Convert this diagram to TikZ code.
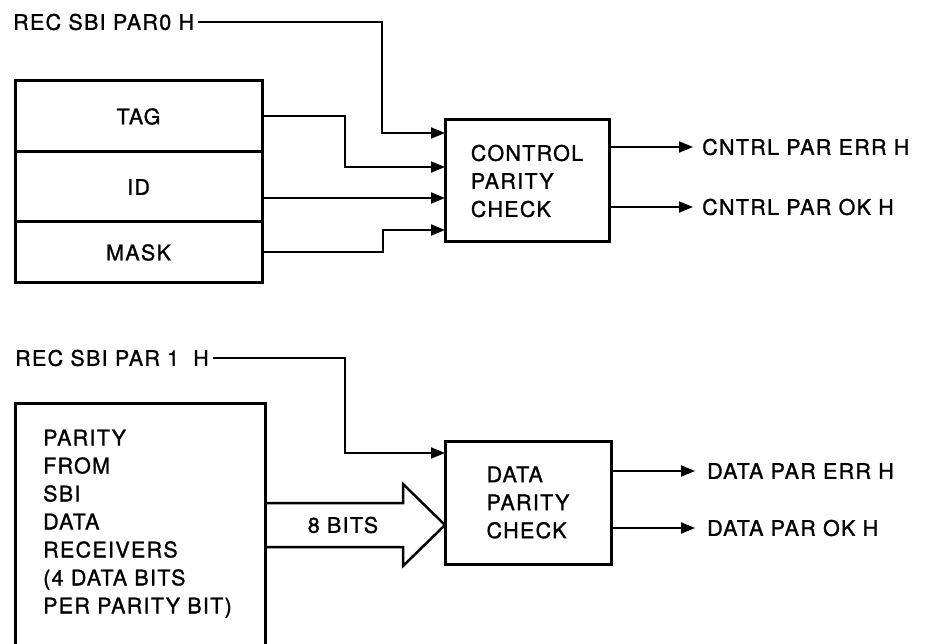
\documentclass[tikz,border=0pt]{standalone}
\usepackage{fontspec}
\setmainfont{TeX Gyre Heros}[LetterSpace=6,FakeBold=1.2]
\usetikzlibrary{arrows.meta,calc}
\begin{document}
\begin{tikzpicture}[x=1pt,y=-1pt,
  every node/.style={font=\fontsize{21.5}{28}\selectfont},
  blk/.style={draw,line width=3pt,rectangle,inner sep=0pt,outer sep=0pt},
  lbl/.style={inner sep=0pt},
  conn/.style={line width=2pt},
  arr/.style={line width=2pt,-{Triangle[length=14pt,width=11pt]}},
  fat/.style={line width=2.5pt,line join=miter}]
\useasboundingbox (0,0) rectangle (929,644);
% top part
\node[lbl,anchor=west] (rec0) at (13,22) {REC SBI PAR0 H};
\node[blk,minimum width=247pt,minimum height=71pt] (tag) at (138.5,116.5) {TAG};
\node[blk,minimum width=247pt,minimum height=70pt,anchor=north] (id) at (tag.south) {ID};
\node[blk,minimum width=247pt,minimum height=61pt,anchor=north] (mask) at (id.south) {MASK};
\node[blk,minimum width=164pt,minimum height=122pt,align=left] (ctrl) at (527,181) {CONTROL\\PARITY\\CHECK};
\coordinate (in1) at ($(ctrl.north west)+(0,13)$);
\coordinate (in2) at ($(ctrl.north west)+(0,47)$);
\coordinate (in3) at ($(ctrl.north west)+(0,78)$);
\coordinate (in4) at ($(ctrl.north west)+(0,110)$);
\draw[arr] ([xshift=4pt]rec0.east) -| ([xshift=-63pt]in1) -- (in1);
\draw[arr] (tag.east) -| ([xshift=-100pt]in2) -- (in2);
\draw[arr] (in3 -| id.east) -- (in3);
\draw[arr] (mask.east) -| ([xshift=-62pt]in4) -- (in4);
\node[lbl,anchor=west] (cerr) at (702,147) {CNTRL PAR ERR H};
\node[lbl,anchor=west] (cok) at (702,207) {CNTRL PAR OK H};
\draw[arr] (ctrl.east |- cerr.west) -- ([xshift=-9pt]cerr.west);
\draw[arr] (ctrl.east |- cok.west) -- ([xshift=-9pt]cok.west);
% bottom part
\node[lbl,anchor=west] (rec1) at (15,358) {REC SBI PAR 1\hspace{14pt}H};
\node[minimum width=250pt,minimum height=241pt,inner sep=0pt,outer sep=0pt] (recv) at (140,523.5) {};
\draw[line width=3pt] (recv.south west) -- (recv.north west) -- (recv.north east) -- (recv.south east);
\node[lbl,anchor=north west,align=left] (recvtxt) at (43,429.5) {PARITY\\FROM\\SBI\\DATA\\RECEIVERS\\(4 DATA BITS\\PER PARITY BIT)};
\node[blk,minimum width=166pt,minimum height=123pt,align=left] (dbox) at (528,502.5) {DATA\\PARITY\\CHECK};
\coordinate (inD) at ($(dbox.north west)+(0,12)$);
\draw[arr] ([xshift=4pt]rec1.east) -| ([xshift=-100pt]inD) -- (inD);
\draw[fat] (recv.east |- 0,503) -- (403,503) -- (403,484) -- (dbox.west |- 0,525) -- (403,566) -- (403,547) -- (recv.east |- 0,547);
\node[lbl] (bits) at (343,525) {8 BITS};
\node[lbl,anchor=west] (derr) at (707,471) {DATA PAR ERR H};
\node[lbl,anchor=west] (dok) at (707,528) {DATA PAR OK H};
\draw[arr] (dbox.east |- derr.west) -- ([xshift=-12pt]derr.west);
\draw[arr] (dbox.east |- dok.west) -- ([xshift=-12pt]dok.west);
\end{tikzpicture}
\end{document}
